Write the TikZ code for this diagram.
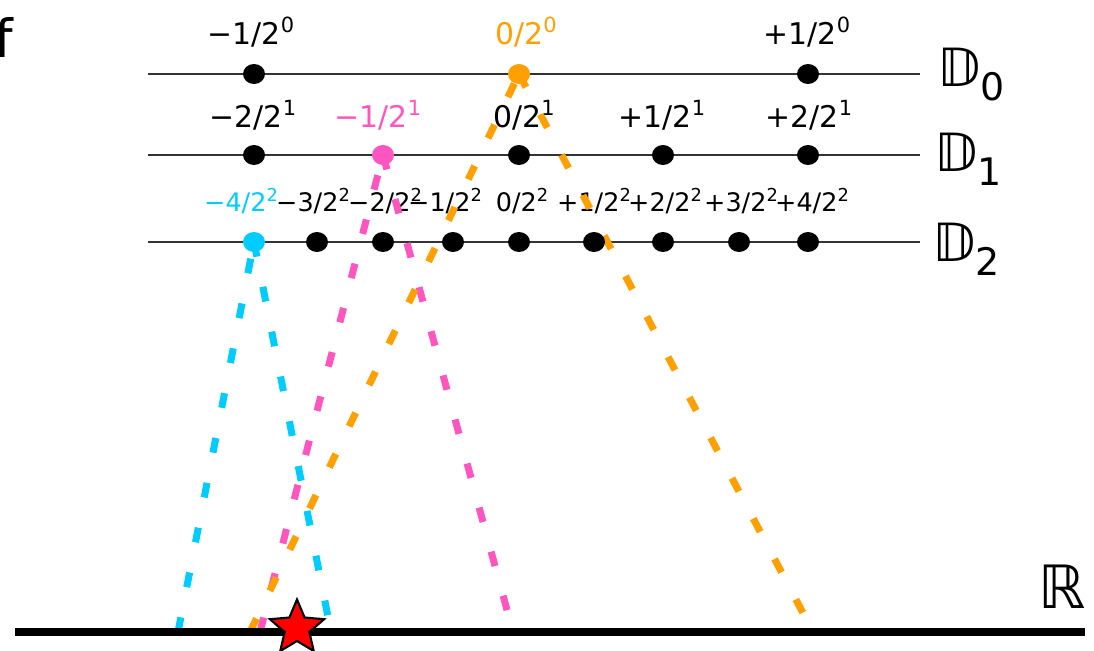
\documentclass[tikz,border=0pt]{standalone}
\usepackage{fontspec}
\setmainfont{DejaVu Sans}
\usepackage{graphicx}
\usetikzlibrary{shapes.geometric}
\definecolor{rayorange}{RGB}{255,160,0}
\definecolor{raypink}{RGB}{255,85,190}
\definecolor{raycyan}{RGB}{0,204,255}
\newcommand{\dyad}[2]{#1/2\raisebox{0.42em}{\scalebox{0.7}{#2}}}
\newcommand{\dsub}[1]{\raisebox{-0.25em}{\scalebox{0.72}{#1}}}
\pgfdeclarelayer{bg}
\pgfdeclarelayer{mid}
\pgfsetlayers{bg,mid,main}

\begin{document}
\begin{tikzpicture}[x=0.02cm, y=-0.02cm,
  dot/.style={ellipse, draw=none, inner sep=0pt, minimum width=0.44cm, minimum height=0.40cm},
  lvlline/.style={black!80, line width=1pt},
  labA/.style={font=\fontsize{17}{20}\selectfont, anchor=base, inner sep=0pt},
  labB/.style={font=\fontsize{14.5}{17}\selectfont, anchor=base, inner sep=0pt},
  setlab/.style={font=\fontsize{30}{34}\selectfont, anchor=base west, inner sep=0pt},
  ray/.style={line width=4pt, dash pattern=on 8.5pt off 17.5pt}]
  \useasboundingbox (0,0) rectangle (1094,651);

  % the three dyadic levels
  \begin{pgfonlayer}{bg}
    \coordinate (a0) at (148,74);  \coordinate (b0) at (920,74);
    \coordinate (a1) at (148,155); \coordinate (b1) at (920,155);
    \coordinate (a2) at (148,242); \coordinate (b2) at (920,242);
    \draw[lvlline] (a0) -- (b0);
    \draw[lvlline] (a1) -- (b1);
    \draw[lvlline] (a2) -- (b2);
  \end{pgfonlayer}

  % level 0
  \foreach \x/\lx/\n/\c [count=\i] in {254/251/−1/black, 519/526/0/rayorange, 808/807/+1/black} {
    \node[dot, fill=\c] (d0-\i) at (\x,74) {};
    \begin{pgfonlayer}{bg}
      \node[labA, text=\c] (l0-\i) at (\lx,45) {\dyad{\n}{0}};
    \end{pgfonlayer}
  }
  % level 1
  \foreach \x/\lx/\n/\c [count=\i] in {254/253/−2/black, 383/378/−1/raypink, 519/524/0/black,
      663/662/+1/black, 808/809/+2/black} {
    \node[dot, fill=\c] (d1-\i) at (\x,155) {};
    \begin{pgfonlayer}{bg}
      \node[labA, text=\c] (l1-\i) at (\lx,128) {\dyad{\n}{1}};
    \end{pgfonlayer}
  }
  % level 2
  \foreach \x/\lx/\n/\c [count=\i] in {254/241/−4/raycyan, 317/313/−3/black, 383/385/−2/black,
      453/445/−1/black, 519/522/0/black, 594/594/+1/black, 663/665/+2/black,
      739/741/+3/black, 808/812/+4/black} {
    \node[dot, fill=\c] (d2-\i) at (\x,242) {};
    \begin{pgfonlayer}{bg}
      \node[labB, text=\c] (l2-\i) at (\lx,212) {\dyad{\n}{2}};
    \end{pgfonlayer}
  }

  \node[setlab] (D0) at (937,87) {𝔻\dsub{0}};
  \node[setlab] (D1) at (934,172) {𝔻\dsub{1}};
  \node[setlab] (D2) at (932,262) {𝔻\dsub{2}};
  \node[setlab, font=\fontsize{34}{38}\selectfont] (RR) at (1038,608) {ℝ};
  \node[setlab] (ff) at (-6,58) {f};

  % rays down to the real line
  \coordinate (r1) at (178,632); \coordinate (r2) at (331,632);
  \coordinate (r3) at (260,632); \coordinate (r4) at (513,632);
  \coordinate (r5) at (250,632); \coordinate (r6) at (813,632);
  \begin{pgfonlayer}{mid}
    \draw[ray, raycyan] (r1) -- (d2-1.center);
    \draw[ray, raycyan] (d2-1.center) -- (r2);
    \draw[ray, raypink] (r3) -- (d1-2.center);
    \draw[ray, raypink] (d1-2.center) -- (r4);
    \draw[ray, rayorange] (r5) -- (d0-2.center);
    \draw[ray, rayorange] (d0-2.center) -- (r6);
  \end{pgfonlayer}

  % real line and the point
  \coordinate (rl) at (15,632); \coordinate (rr) at (1085,632);
  \draw[line width=4.5pt] (rl) -- (rr);
  \node[star, star points=5, star point ratio=2.2, minimum size=1.14cm, inner sep=0pt,
    fill=red, draw=black, line width=1.2pt] (pt) at (297,628) {};
\end{tikzpicture}
\end{document}
